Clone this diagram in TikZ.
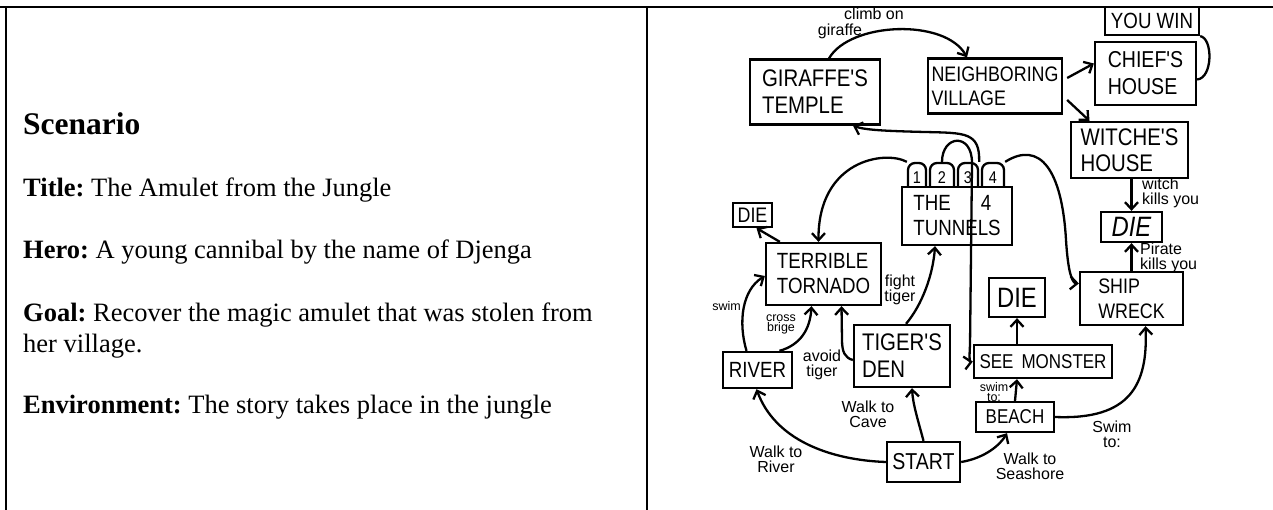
\documentclass[tikz,border=0pt]{standalone}
\usepackage{fontspec}
\setmainfont{Liberation Serif}
\setsansfont{Liberation Sans}
\newfontfamily\hand[FakeStretch=0.85]{Liberation Sans}
\newcommand{\hs}[2]{\hand\fontsize{#1}{#2}\selectfont}
\frenchspacing
\usetikzlibrary{arrows.meta}

\begin{document}
\begin{tikzpicture}[x=1pt,y=-1pt,
  txt/.style={anchor=base west, inner sep=0pt, font=\fontsize{26.5}{30}\selectfont},
  room/.style={draw, line width=2.3pt, fill=white, align=left, inner sep=1pt, font=\hs{22}{25}},
  tab/.style={draw, line width=2.3pt, fill=white, rounded corners=7pt, minimum height=30pt, inner sep=0pt, font=\hs{17}{17}},
  note/.style={align=center, inner sep=0pt, font=\sffamily\fontsize{16}{15}\selectfont},
  small/.style={align=center, inner sep=0pt, font=\sffamily\fontsize{12.5}{10}\selectfont},
  go/.style={line width=2.3pt, -{Straight Barb[length=7pt,width=13pt]}}]
\useasboundingbox (0,0) rectangle (1273,510);
\draw[line width=2.5pt] (0,7) -- (1273,7) (6,7) -- (6,510) (647,7) -- (647,510);

\node[txt, font=\bfseries\fontsize{31.5}{36}\selectfont] (scen) at (23,135) {Scenario};
\node[txt] (title) at (23,197) {\textbf{Title:} The Amulet from the Jungle};
\node[txt] (hero) at (23,259) {\textbf{Hero:} A young cannibal by the name of Djenga};
\node[txt] (goal) at (23,321) {\textbf{Goal:} Recover the magic amulet that was stolen from};
\node[txt] (goal2) at (23,352) {her village.};
\node[txt] (env) at (23,413) {\textbf{Environment:} The story takes place in the jungle};

\foreach \n/\x/\w in {1/917/18,2/942/24,3/968/20,4/993/22}
  \node[tab, minimum width=\w pt] (t\n) at (\x,178) {\n};

\node[room, minimum width=130pt, minimum height=65pt, font=\hs{24}{27}] (giraffe) at (815,92) {GIRAFFE'S\\TEMPLE};
\node[room, minimum width=134pt, minimum height=55pt, font=\hs{21}{24}] (village) at (995,86) {NEIGHBORING\\VILLAGE};
\node[room, minimum width=94pt, minimum height=28pt] (youwin) at (1152,21) {YOU WIN};
\node[room, minimum width=101pt, minimum height=63pt, font=\hs{23}{27}] (chief) at (1145.5,73.5) {CHIEF'S\\HOUSE};
\node[room, minimum width=117pt, minimum height=56pt, font=\hs{24}{26}] (witch) at (1129.5,150) {WITCHE'S\\HOUSE};
\node[room, minimum width=61pt, minimum height=30pt, font=\hs{28}{28}\itshape] (dier) at (1131.5,227) {DIE};
\node[room, minimum width=103pt, minimum height=53pt, font=\hs{21}{25}] (ship) at (1131.5,298.5) {SHIP\\WRECK};
\node[room, minimum width=110pt, minimum height=58pt] (tunnels) at (957,216) {THE\hspace{30pt}4\\TUNNELS};
\node[room, minimum width=39pt, minimum height=24pt, font=\hs{21}{21}] (diel) at (752.5,215) {DIE};
\node[room, minimum width=115pt, minimum height=62pt] (tornado) at (823.5,274) {TERRIBLE\\TORNADO};
\node[room, minimum width=69pt, minimum height=36pt] (river) at (757.5,370) {RIVER};
\node[room, minimum width=96pt, minimum height=62pt, font=\hs{24}{27}] (tiger) at (902,356) {TIGER'S\\DEN};
\node[room, minimum width=73pt, minimum height=40pt, font=\hs{23}{23}] (start) at (923.5,462) {START};
\node[room, minimum width=78pt, minimum height=30pt, font=\hs{20}{20}] (beach) at (1015,417) {BEACH};
\node[room, minimum width=138pt, minimum height=33pt, font=\hs{20}{20}] (monster) at (1043,361.5) {SEE\hspace{8pt}MONSTER};
\node[room, minimum width=56pt, minimum height=39pt, font=\hs{28}{28}] (diem) at (1017,297.5) {DIE};

\draw[go] ([xshift=14pt]giraffe.north) .. controls (850,22) and (945,18) .. ([xshift=-28pt]village.north);
\draw[go] ([shift={(4pt,8pt)}]village.east) -- ([yshift=10pt]chief.west);
\draw[line width=2.3pt] ([yshift=-6pt]chief.east) .. controls (1213,78) and (1213,38) .. (youwin.south east);
\draw[go] ([shift={(4pt,-14pt)}]village.east) -- ([xshift=-40pt]witch.north);
\draw[go] ([xshift=2pt]witch.south) -- (dier.north);
\draw[go] (ship.north) -- (dier.south);
\draw[go] (t1.north west) .. controls (885,150) and (818,160) .. ([xshift=-5pt]tornado.north);
\draw[go] (t4.north east) .. controls (1040,140) and (1062,170) .. (1066,240) .. controls (1068,272) and (1072,283) .. ([yshift=15pt]ship.west);
\draw[go] (t3.north east) .. controls (980,132) and (965,133) .. (925,132) .. controls (885,131) and (865,130) .. ([xshift=38pt]giraffe.south);
\draw[go] (t2.north) .. controls (942,135) and (972,132) .. (972,163) -- (970,345) .. controls (969,360) and (970,362) .. (monster.west);
\draw[go] ([xshift=15pt]tornado.north west) -- ([xshift=4pt]diel.south);
\draw[go] ([xshift=-11pt]river.north) .. controls (738,322) and (742,290) .. ([yshift=-2pt]tornado.west);
\draw[go] ([xshift=22pt]river.north) .. controls (800,345) and (810,330) .. ([xshift=-12pt]tornado.south);
\draw[go] ([yshift=-4pt]tiger.west) .. controls (845,358) and (842,352) .. (842,340) -- ([xshift=18pt]tornado.south);
\draw[go] ([xshift=4pt]tiger.north) .. controls (922,305) and (933,275) .. ([xshift=-22pt]tunnels.south);
\draw[go] (start.west) .. controls (830,460) and (775,440) .. ([xshift=-1pt]river.south);
\draw[go] (start.north) .. controls (918,420) and (913,405) .. ([xshift=10pt]tiger.south);
\draw[go] (start.east) .. controls (985,458) and (1000,445) .. ([xshift=-8pt]beach.south);
\draw[go] (beach.north) -- ([xshift=-26pt]monster.south);
\draw[go] ([xshift=-26pt]monster.north) -- (diem.south);
\draw[go] (beach.east) .. controls (1130,420) and (1148,385) .. ([xshift=14pt]ship.south);

\node[note] (lclimb) at (874,14) {climb on};
\node[note] (lgiraffe) at (840,31) {giraffe};
\node[note, anchor=west, align=left] (lwitch) at (1142,193) {witch\\kills you};
\node[note, anchor=west, align=left] (lpirate) at (1140,258) {Pirate\\kills you};
\node[small, anchor=east] (lswim) at (741,306) {swim};
\node[small] (lcross) at (781,324) {cross\\brige};
\node[note] (lavoid) at (822,365) {avoid\\tiger};
\node[note] (lfight) at (900,290) {fight\\tiger};
\node[note] (lriver) at (776,459) {Walk to\\River};
\node[note] (lcave) at (868,414) {Walk to\\Cave};
\node[note] (lsea) at (1030,466) {Walk to\\Seashore};
\node[small] (lbeach) at (994,392) {swim\\to:};
\node[note] (lship) at (1112,434) {Swim\\to:};
\end{tikzpicture}
\end{document}
